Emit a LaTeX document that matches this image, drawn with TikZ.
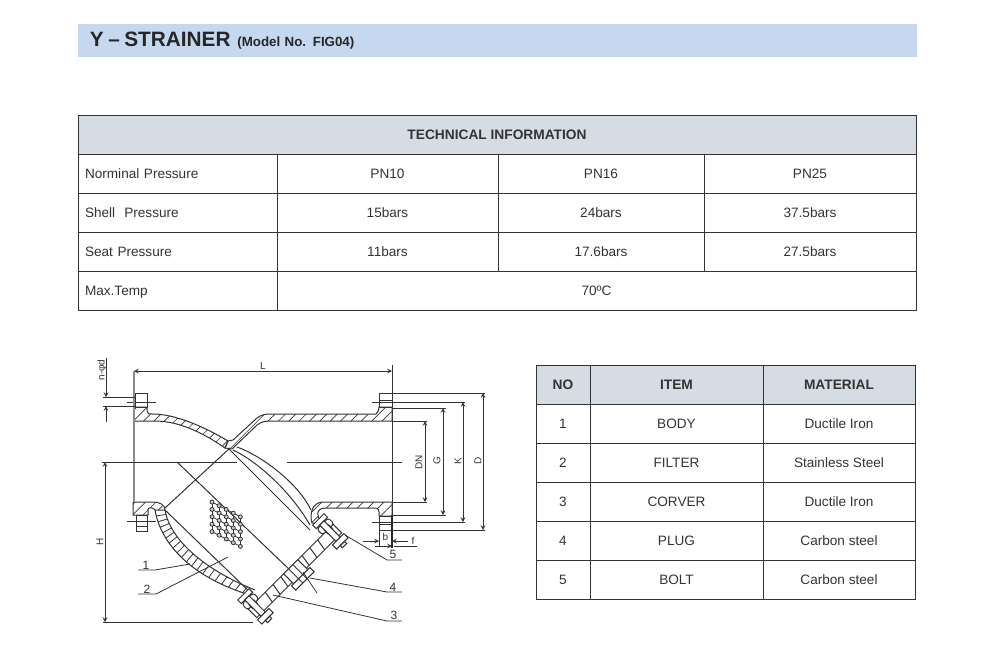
\documentclass[tikz,border=0pt]{standalone}
\usepackage{fontspec}
\setmainfont{Liberation Sans}
\usetikzlibrary{patterns.meta}
\definecolor{bannerblue}{HTML}{C6D8F0}
\definecolor{headgrey}{HTML}{D6DCE4}
\definecolor{inkgrey}{HTML}{333333}
\begin{document}
\begin{tikzpicture}[x=0.75pt,y=-0.75pt,>=stealth,
  cell/.style={draw=inkgrey,line width=0.75pt,minimum height=29.25pt,inner sep=0pt,
    text=inkgrey,text height=7.5pt,text depth=0.5pt,font=\fontsize{10.2}{12}\selectfont},
  labelcell/.style={cell,minimum width=149.25pt,text width=138.75pt,inner xsep=5.25pt,align=left},
  headcell/.style={cell,fill=headgrey,font=\fontsize{10.3}{12}\selectfont\bfseries},
  part/.style={line width=0.75pt,draw=inkgrey},
  thin/.style={line width=0.6pt,draw=inkgrey},
  hatch/.style={part,pattern={Lines[angle=45,distance=5.5pt,line width=0.5pt]},pattern color=inkgrey},
  tag/.style={inner sep=0pt,text=inkgrey,font=\fontsize{7.5}{9}\selectfont},
  calltag/.style={tag,font=\fontsize{9}{10}\selectfont}]
\useasboundingbox (0,0) rectangle (993,658);
\node[minimum width=629.25pt,minimum height=24.75pt,text width=620.25pt,inner xsep=4.5pt,inner ysep=0pt,fill=bannerblue,align=left,text=black!85,text height=11pt,text depth=1.5pt]
  (banner) at (497.5,40.5) {\hspace{4.5pt}\fontsize{15.6}{18}\selectfont\bfseries Y – STRAINER\hspace{5pt}{\fontsize{10}{12}\selectfont (Model No. FIG04)}};

\node[headcell,minimum width=628.5pt] (techhead) at (497,134.5) {TECHNICAL INFORMATION};
\foreach \rowname/\cy/\lab/\va/\vb/\vc in {norm/173.5/Norminal Pressure/PN10/PN16/PN25,
    shell/212.5/Shell\ \ Pressure/15bars/24bars/37.5bars,
    seat/251.5/Seat Pressure/11bars/17.6bars/27.5bars}{
  \node[labelcell] (\rowname-lab) at (177.5,\cy) {\lab};
  \node[cell,minimum width=165.75pt] (\rowname-a) at (387.5,\cy) {\va};
  \node[cell,minimum width=154.5pt] (\rowname-b) at (601,\cy) {\vb};
  \node[cell,minimum width=159pt] (\rowname-c) at (810,\cy) {\vc};
}
\node[labelcell] (temp-lab) at (177.5,290.5) {Max.Temp};
\node[cell,minimum width=479.25pt] (temp-val) at (596.5,290.5) {70ºC};

\node[headcell,minimum width=40.5pt] (head-no) at (563,384.5) {NO};
\node[headcell,minimum width=129.75pt] (head-item) at (676.5,384.5) {ITEM};
\node[headcell,minimum width=114pt] (head-mat) at (839,384.5) {MATERIAL};
\foreach \n/\cy/\item/\mat in {1/423.5/BODY/Ductile Iron,2/462.5/FILTER/Stainless Steel,
    3/501.5/CORVER/Ductile Iron,4/540.5/PLUG/Carbon steel,5/579.5/BOLT/Carbon steel}{
  \node[cell,minimum width=40.5pt] (no\n) at (563,\cy) {\n};
  \node[cell,minimum width=129.75pt] (item\n) at (676.5,\cy) {\item};
  \node[cell,minimum width=114pt] (mat\n) at (839,\cy) {\mat};
}

\draw[hatch] (134,407) -- (147,407) -- (147,411) .. controls (147,414) and (149,414) .. (153,414)
  .. controls (175,414) and (205,427) .. (228,441) -- (225,448)
  .. controls (205,434) and (180,421) .. (155,421) -- (134,421) -- cycle;
\draw[hatch] (228,441) -- (233,440) -- (257,418) .. controls (261,415) and (265,414) .. (270,414)
  -- (376,414) .. controls (378,412) and (379,410) .. (379,407) -- (392,407) -- (392,421) -- (270,421)
  .. controls (265,421) and (261,422) .. (257,425) -- (232,449) -- (225,448) -- cycle;
\draw[hatch] (323,502) -- (392,502) -- (392,516) -- (379,516) -- (379,512)
  .. controls (379,510) and (378,508) .. (376,508) -- (325,508)
  .. controls (320,508) and (317,511) .. (318,515) -- (320,523) -- (312,523)
  .. controls (309,513) and (313,502) .. (323,502) -- cycle;
\draw[hatch] (133,502) -- (153,502) .. controls (160,502) and (165,505) .. (165,510) -- (155,510)
  .. controls (153,507) and (148,507) .. (148,510) -- (148,515) -- (133,515) -- cycle;
\draw[part] (155,510) .. controls (162,550) and (200,580) .. (250,595);
\draw[part] (165,510) .. controls (170,540) and (205,570) .. (255,590);
\foreach \t in {0.05,0.1,...,0.96}{
  \pgfmathsetmacro{\ax}{(1-\t)^3*155+3*(1-\t)^2*\t*162+3*(1-\t)*\t^2*200+\t^3*250}
  \pgfmathsetmacro{\ay}{(1-\t)^3*510+3*(1-\t)^2*\t*550+3*(1-\t)*\t^2*580+\t^3*595}
  \pgfmathsetmacro{\bx}{(1-\t)^3*165+3*(1-\t)^2*\t*170+3*(1-\t)*\t^2*205+\t^3*255}
  \pgfmathsetmacro{\by}{(1-\t)^3*510+3*(1-\t)^2*\t*540+3*(1-\t)*\t^2*570+\t^3*590}
  \draw[thin] (\ax,\ay) -- (\bx,\by);
}
\draw[part] (237,447) .. controls (262,456) and (298,483) .. (311,510);
\draw[part] (233,450) .. controls (255,460) and (290,490) .. (310,525);
\draw[part] (177,462) -- (292,572);
\draw[part] (228,448) -- (310,530);
\draw[part] (165,508) -- (230,448);
\draw[part] (165,510) -- (255,597);

\draw[part] (135,393) rectangle (147,407);
\draw[part] (136,515) rectangle (147,531);
\draw[part] (379,393) rectangle (392,407);
\draw[part] (379,516) rectangle (392,530);
\draw[thin] (127,402) -- (156,402);
\draw[thin] (127,521) -- (156,521);
\draw[thin] (372,402) -- (402,402);
\draw[thin] (372,522) -- (402,522);
\draw[thin] (379,400) -- (392,400);
\draw[thin] (136,526) -- (147,526);
\draw[thin] (379,524) -- (392,524);

\draw[line width=0.9pt,draw=black!45] (134,371) -- (134,502);
\draw[line width=0.7pt,draw=black!80] (392,365) -- (392,516);
\draw[line width=1.4pt,draw=black!85] (392,516) -- (392,548);
\draw[thin] (102,462) -- (237,462);
\draw[thin] (287,462) -- (402,462);

\foreach \i in {0,...,4}{
  \draw[thin] ({212+7.1*\i},{502+3.7*\i}) -- ++(0,29.6);
  \draw[thin] (212,{502+7.4*\i}) -- ++(28.4,14.8);
}
\foreach \i in {0,...,4}{
  \foreach \j in {0,...,4}{
    \draw[thin,fill=black!20] ({212+7.1*\i},{502+3.7*\i+7.4*\j}) circle (2);
  }
}

\begin{scope}[shift={(295,571)},rotate=-45]
\draw[part,fill=white] (-6,-60) rectangle (6,60);
\foreach \ly in {-38,-27,-16,14,25,36}{
  \draw[part] (-6,\ly) -- (6,\ly+2);
}
\draw[part,fill=white] (-6,-10) rectangle (8,10);
\draw[part,fill=white] (8,-13) rectangle (14,13);
\draw[part] (-6,-3) -- (14,-3);
\draw[part] (-6,3) -- (14,3);
\foreach \ly in {-53,53}{
  \draw[part,fill=white,rounded corners=2pt] (-14,\ly-8) rectangle (-6,\ly+8);
  \fill[inkgrey] (-9,\ly-4) rectangle (-3,\ly+4);
  \draw[part,fill=white] (-20,\ly-8) rectangle (-15,\ly+8);
  \draw[part,fill=white] (-15,\ly-3) rectangle (8,\ly+3);
  \draw[part,fill=white] (8,\ly-8) rectangle (14,\ly+8);
  \draw[part] (14,\ly-3) rectangle (17,\ly+3);
}
\end{scope}
\draw[thin] (303,572) -- (317,593);

\coordinate (lfront) at (134,371);
\coordinate (lback) at (392,371);
\draw[thin,<->] (lfront) -- node[tag,above=1pt] (lab-l) {L} (lback);
\draw[thin] (103,397) -- (135,397);
\draw[thin] (103,406) -- (135,406);
\draw[thin,->] (106,358) -- (106,397);
\draw[thin,->] (106,422) -- (106,406);
\node[tag,rotate=90] (lab-nd) at (102,370) {n-φd};
\draw[thin,<->] (105,462) -- (105,622);
\draw[thin] (103,622) -- (253,622);
\node[tag,rotate=90] (lab-h) at (100,542) {H};

\draw[thin] (392,393) -- (485,393);
\draw[thin] (392,530) -- (485,530);
\draw[thin] (392,402) -- (465,402);
\draw[thin] (392,522) -- (465,522);
\draw[thin] (392,408) -- (446,408);
\draw[thin] (392,515) -- (446,515);
\draw[thin] (392,421) -- (427,421);
\draw[thin] (392,502) -- (427,502);
\draw[thin,<->] (483,393) -- (483,530);
\draw[thin,<->] (463,402) -- (463,522);
\draw[thin,<->] (443,408) -- (443,515);
\draw[thin,<->] (425,421) -- (425,502);
\node[tag,rotate=90] (lab-dn) at (419,462) {DN};
\node[tag,rotate=90] (lab-g) at (437,461) {G};
\node[tag,rotate=90] (lab-k) at (458,461) {K};
\node[tag,rotate=90] (lab-d) at (478,461) {D};

\draw[thin] (379,530) -- (379,546);
\draw[thin,->] (363,541) -- (379,541);
\draw[thin,->] (408,541) -- (392,541);
\draw[thin,->] (375,546) -- (392,546);
\draw[thin] (417,546) -- (394,546);
\node[tag] (lab-b) at (385.5,537) {b};
\node[tag] (lab-f) at (413,541) {f};

\node[calltag] (call1) at (146,565) {1};
\node[calltag] (call2) at (147,589) {2};
\node[calltag] (call3) at (394,615) {3};
\node[calltag] (call4) at (393,587) {4};
\node[calltag] (call5) at (393,554) {5};
\coordinate (tip1) at (190,564);
\coordinate (tip2) at (228,557);
\coordinate (tip3) at (273,595);
\coordinate (tip4) at (310,578);
\coordinate (tip5) at (345,535);
\draw[thin] (138,570) -- (155,570) -- (tip1);
\draw[thin] (138,594) -- (156,594) -- (tip2);
\draw[thin] (402,621) -- (387,621) -- (tip3);
\draw[thin] (402,592) -- (387,592) -- (tip4);
\draw[thin] (402,560) -- (387,560) -- (tip5);
\end{tikzpicture}
\end{document}
